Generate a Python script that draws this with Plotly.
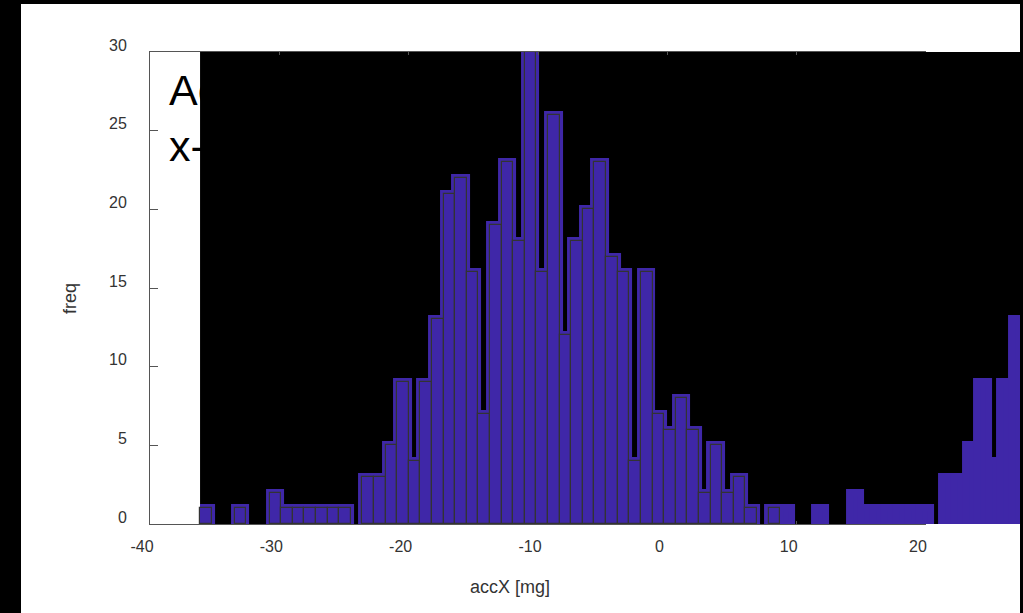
import plotly.graph_objects as go

# ---- data ----
counts = [1, 0, 0, 1, 0, 0, 2, 1, 1, 1, 1, 1, 1, 0, 3, 3, 5, 9, 4, 9,
          13, 21, 22, 16, 7, 19, 23, 18, 30, 16, 26, 12, 18, 20, 23, 17, 16, 4, 16, 7,
          6, 8, 6, 2, 5, 2, 3, 1, 0, 1]
bin_start = -36.13
bin_width = 0.897
x_ticks = [-40, -30, -20, -10, 0, 10, 20]
x_tick_labels = ["-40", "-30", "-20", "-10", "0", "10", "20"]
y_ticks = [0, 5, 10, 15, 20, 25, 30]
x_range = [-40, 20]
y_range = [0, 30]
title_text = "Acceleration<br>x-axis"
x_title = "accX [mg]"
y_title = "freq"

PURPLE = "#3f27a8"
OUTLINE = "#333333"

# ---- geometry (pixels) ----
W, H = 1023, 613
L, R, T, B = 150, 0, 52, 89
plot_w = W - L - R          # 873
plot_h = H - T - B          # 472
main_w = 776                # width of the visible axes box
ppu = main_w / (x_range[1] - x_range[0])


def px_x(p):
    return (p - L) / plot_w


def px_y(p):
    return (H - B - p) / plot_h


def blank_zero(vals):
    return [v if v else None for v in vals]


centers = [bin_start + (i + 0.5) * bin_width for i in range(len(counts))]
layer_counts = counts + counts
layer_centers = [bin_start + (i + 0.5) * bin_width for i in range(len(layer_counts))]

layer_dom0 = (bin_start - x_range[0]) * ppu / plot_w
layer_right = x_range[0] + plot_w / ppu

fig = go.Figure()

# thick purple layer (repeated histogram), clipped to its own wide subplot
fig.add_trace(go.Bar(
    x=layer_centers, y=blank_zero(layer_counts), width=bin_width,
    marker=dict(color=PURPLE, line=dict(color=PURPLE, width=7)),
    xaxis="x", yaxis="y", showlegend=False, hoverinfo="skip",
))

# histogram with thin dark outlines on the visible axes
fig.add_trace(go.Bar(
    x=centers, y=blank_zero(counts), width=bin_width,
    marker=dict(color=PURPLE, line=dict(color=OUTLINE, width=1.2)),
    xaxis="x2", yaxis="y2", showlegend=False,
))

tick_font = dict(family="Liberation Sans, Arial, sans-serif", size=16, color="#333333")

fig.update_layout(
    width=W, height=H,
    margin=dict(l=L, r=R, t=T, b=B, pad=0),
    paper_bgcolor="white",
    plot_bgcolor="rgba(0,0,0,0)",
    font=dict(family="Liberation Sans, Arial, sans-serif", color="#333333"),
    xaxis=dict(domain=[layer_dom0, 1], range=[bin_start, layer_right], visible=False,
               anchor="y", fixedrange=True),
    yaxis=dict(domain=[0, 1], range=y_range, visible=False, anchor="x", fixedrange=True),
    xaxis2=dict(domain=[0, main_w / plot_w], range=x_range, anchor="y2",
                tickmode="array", tickvals=x_ticks, ticktext=x_tick_labels,
                ticks="inside", ticklen=3,
                tickcolor="#555555", showline=True, linecolor="#555555", linewidth=1,
                mirror="ticks", showgrid=False, zeroline=False,
                tickfont=tick_font, ticklabelshift=-8, ticklabelstandoff=8,
                layer="below traces"),
    yaxis2=dict(domain=[0, 1], range=y_range, anchor="x2",
                tickmode="array", tickvals=y_ticks, ticks="inside", ticklen=8,
                tickcolor="#555555", showline=True, linecolor="#555555", linewidth=1,
                mirror=False, showgrid=False, zeroline=False,
                tickfont=tick_font, ticklabelshift=-7, ticklabelstandoff=19,
                layer="below traces"),
    bargap=0,
)

# black panel behind the wide layer
fig.add_shape(type="rect", xref="x domain", yref="y domain", x0=0, x1=1, y0=0, y1=1,
              fillcolor="black", line=dict(width=0), layer="below")

# black frame of the screenshot
frame = [(0, 0, 21, H), (0, 0, W, 4), (W - 3, 0, W, H)]
for (xa, ya, xb, yb) in frame:
    fig.add_shape(type="rect", xref="paper", yref="paper",
                  x0=px_x(xa), x1=px_x(xb), y0=px_y(yb), y1=px_y(ya),
                  fillcolor="black", line=dict(width=0), layer="above")

fig.add_annotation(text=title_text, xref="paper", yref="paper",
                   x=px_x(167), y=px_y(118), xanchor="left", yanchor="middle",
                   align="left", showarrow=False,
                   font=dict(size=43, color="black",
                             family="Liberation Sans, Arial, sans-serif"))
fig.add_annotation(text=x_title, xref="paper", yref="paper",
                   x=px_x(510), y=px_y(587), xanchor="center", yanchor="middle",
                   showarrow=False, font=dict(size=18, color="#333333"))
fig.add_annotation(text=y_title, xref="paper", yref="paper",
                   x=px_x(70), y=px_y(299), xanchor="center", yanchor="middle",
                   textangle=-90, showarrow=False, font=dict(size=18, color="#333333"))

fig.write_html("out.html", config={"displayModeBar": False},
               post_script="document.body.style.margin='0px';")
